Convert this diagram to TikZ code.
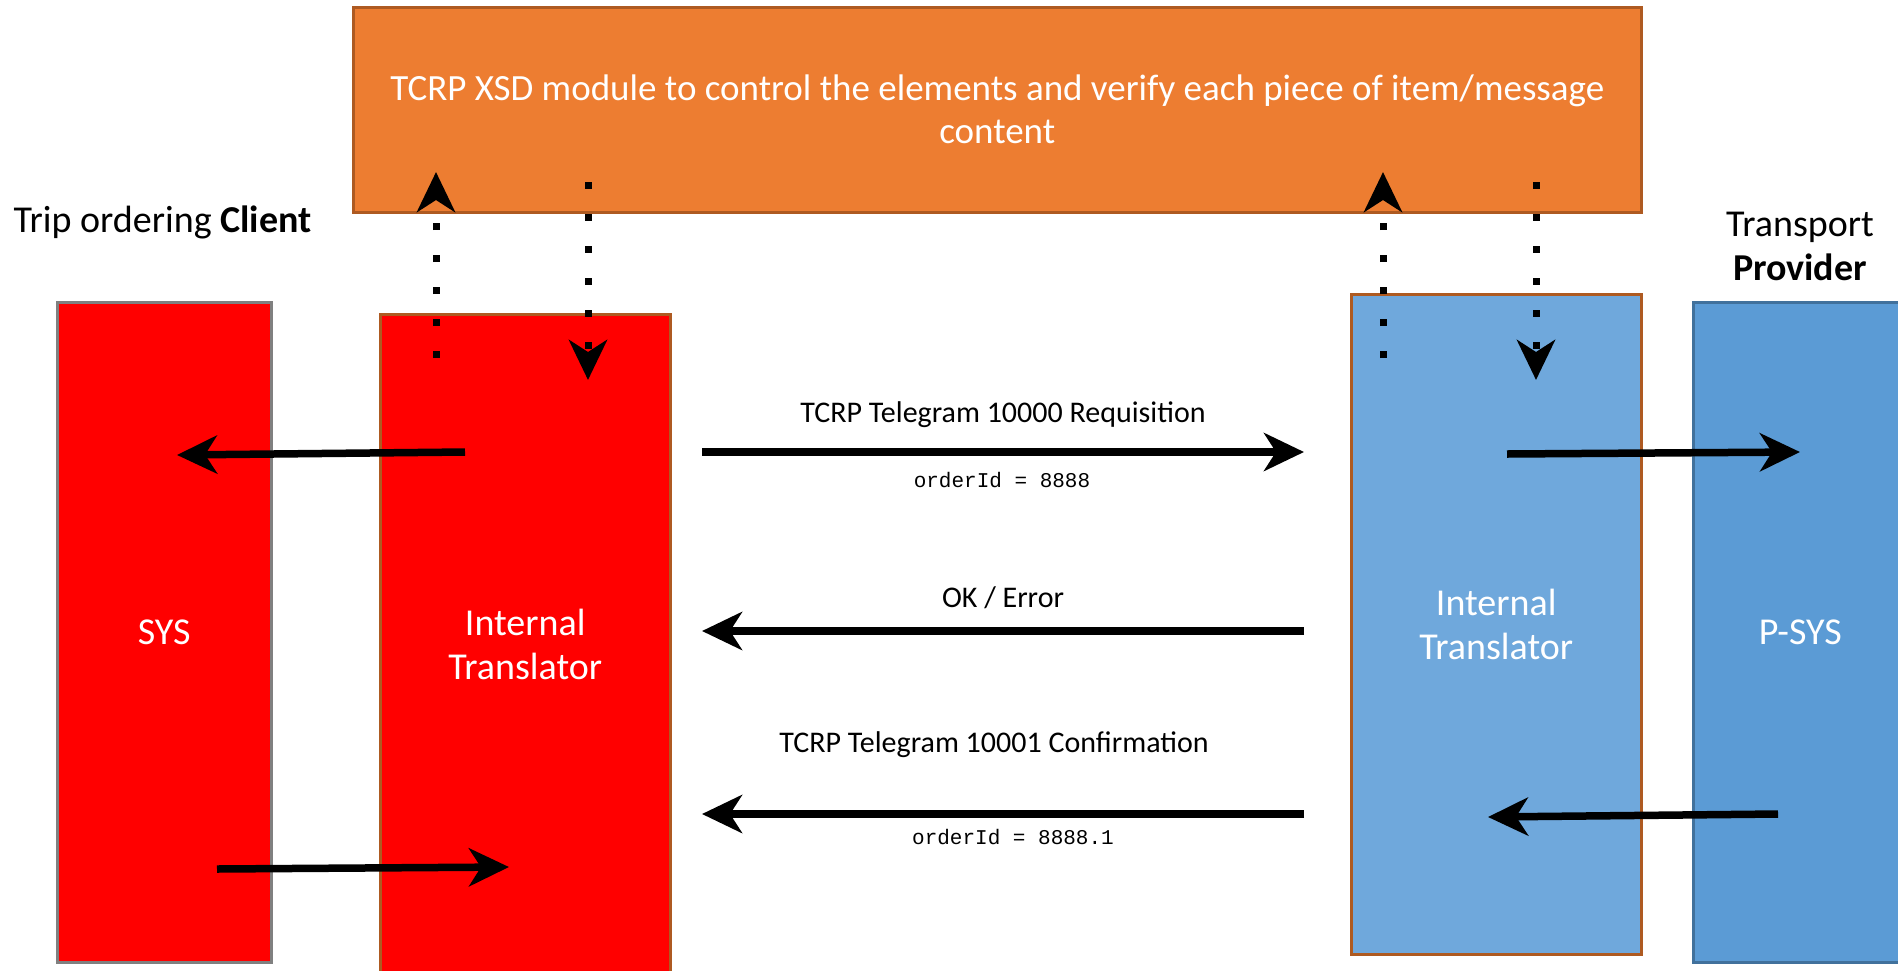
\documentclass[tikz,border=0pt]{standalone}
\usepackage{fontspec}
\setmainfont{Carlito}
\setmonofont{Liberation Mono}
\usetikzlibrary{arrows.meta}
\definecolor{orangefill}{HTML}{ED7D31}
\definecolor{orangeline}{HTML}{AE5A21}
\definecolor{sysline}{HTML}{808080}
\definecolor{bluefill}{HTML}{6FA8DC}
\definecolor{psysfill}{HTML}{5B9BD5}
\definecolor{psysline}{HTML}{41719C}
\begin{document}
\begin{tikzpicture}[x=1pt,y=-1pt,
  box/.style={draw, line width=2.5pt, inner sep=0pt, text=white, anchor=north west, align=center},
  bigarrow/.style={line width=7.5pt, -{Stealth[length=40pt,width=38pt,inset=12pt]}},
  dotarrow/.style={line width=7pt, dash pattern=on 7pt off 25pt, -{Stealth[length=40pt,width=38pt,inset=12pt]}},
  lbl/.style={font=\fontsize{30}{36}\selectfont},
  mono/.style={font=\ttfamily\fontsize{21}{25}\selectfont},
  boxfont/.style={font=\fontsize{38}{44}\selectfont},
  side/.style={font=\fontsize{38}{44}\selectfont, align=center},
]
\useasboundingbox (0,0) rectangle (1898,970);
% boxes
\node[box, fill=orangefill, draw=orangeline, minimum width=1288pt, minimum height=205pt,
      font=\fontsize{37}{43}\selectfont] (xsd) at (352,6)
  {TCRP XSD module to control the elements and verify each piece of item/message\\content};
\node[box, fill=red, draw=sysline, minimum width=214pt, minimum height=660pt, boxfont] (sys) at (56,301) {SYS};
\node[box, fill=red, draw=orangeline, minimum width=290pt, minimum height=660pt, boxfont] (rit) at (379,313) {Internal\\Translator};
\node[box, fill=bluefill, draw=orangeline, minimum width=290pt, minimum height=660pt, boxfont] (bit) at (1350,293) {Internal\\Translator};
\node[box, fill=psysfill, draw=psysline, minimum width=214pt, minimum height=660pt, boxfont] (psys) at (1692,301) {P-SYS};
% side labels
\node[side, anchor=west] (client) at (10,222) {Trip ordering \textbf{Client}};
\node[side] (provider) at (1800,246) {Transport\\\textbf{Provider}};
% message labels
\node[lbl] (reqlbl) at (1003,415) {TCRP Telegram 10000 Requisition};
\node[mono] (reqid) at (1002,480) {orderId = 8888};
\node[lbl] (oklbl) at (1003,598) {OK / Error};
\node[lbl] (conflbl) at (994,745) {TCRP Telegram 10001 Confirmation};
\node[mono] (confid) at (1013,837) {orderId = 8888.1};
% arrow endpoints
\coordinate (a1s) at (465,452); \coordinate (a1e) at (177,455);
\coordinate (reqs) at (702,452); \coordinate (reqe) at (1304,452);
\coordinate (a3s) at (1507,454); \coordinate (a3e) at (1800,452);
\coordinate (oks) at (1304,631); \coordinate (oke) at (702,631);
\coordinate (confs) at (1304,814); \coordinate (confe) at (702,814);
\coordinate (a6s) at (1778,814); \coordinate (a6e) at (1488,817);
\coordinate (a7s) at (217,869); \coordinate (a7e) at (509,867);
\coordinate (d1s) at (436,358); \coordinate (d1e) at (436,172);
\coordinate (d2s) at (588,182); \coordinate (d2e) at (588,380);
\coordinate (d3s) at (1383,358); \coordinate (d3e) at (1383,172);
\coordinate (d4s) at (1536,182); \coordinate (d4e) at (1536,380);
% arrows
\draw[bigarrow] (a1s) -- (a1e);
\draw[bigarrow] (reqs) -- (reqe);
\draw[bigarrow] (a3s) -- (a3e);
\draw[bigarrow] (oks) -- (oke);
\draw[bigarrow] (confs) -- (confe);
\draw[bigarrow] (a6s) -- (a6e);
\draw[bigarrow] (a7s) -- (a7e);
\draw[dotarrow] (d1s) -- (d1e);
\draw[dotarrow] (d2s) -- (d2e);
\draw[dotarrow] (d3s) -- (d3e);
\draw[dotarrow] (d4s) -- (d4e);
\end{tikzpicture}
\end{document}
